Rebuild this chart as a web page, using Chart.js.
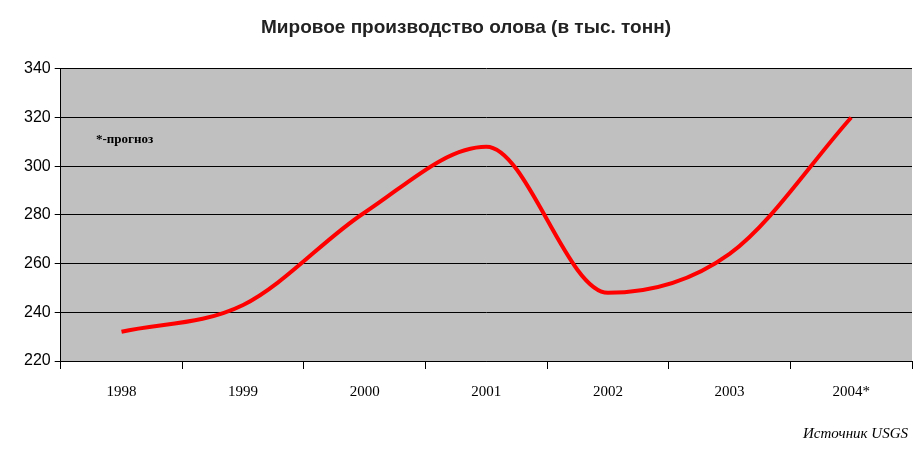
<!DOCTYPE html>
<html><head><meta charset="utf-8">
<script src="https://cdn.jsdelivr.net/npm/chart.js@4"></script>
<style>body{margin:0;background:#fff}#wrap{width:920px;height:460px;position:relative}</style>
</head><body><div id="wrap"><canvas id="c"></canvas></div>
<script>
const years = ['1998', '1999', '2000', '2001', '2002', '2003', '2004*'];
const production = [232, 243, 281, 308, 248, 264, 320];
const yTicks = [220, 240, 260, 280, 300, 320, 340];

// gray plot background and the text notes
const decor = {
    id: 'decor',
    beforeDraw(chart) {
        const {ctx, chartArea: a} = chart;
        ctx.save();
        ctx.fillStyle = '#c0c0c0';
        ctx.fillRect(a.left, a.top, a.right - a.left, a.bottom - a.top);
        ctx.restore();
    },
    afterDraw(chart) {
        const {ctx} = chart;
        ctx.save();
        ctx.fillStyle = '#000';
        ctx.font = 'bold 13px "Liberation Serif"';
        ctx.fillText('*-прогноз', 96, 143);
        ctx.font = 'italic 15px "Liberation Serif"';
        ctx.textAlign = 'right';
        ctx.fillText('Источник USGS', 908, 438);
        ctx.restore();
    }
};

new Chart(document.getElementById('c'), {
    type: 'line',
    data: {
        labels: years,
        datasets: [{
            data: production,
            borderColor: '#ff0000',
            borderWidth: 4,
            pointRadius: 0,
            cubicInterpolationMode: 'monotone',
            fill: false
        }]
    },
    options: {
        responsive: true,
        maintainAspectRatio: false,
        animation: false,
        layout: { padding: { top: 10, right: 8, left: 20, bottom: 45 } },
        plugins: {
            legend: { display: false },
            tooltip: { enabled: false },
            title: {
                display: true,
                text: 'Мировое производство олова (в тыс. тонн)',
                color: '#222',
                font: { family: 'Liberation Sans', size: 19, weight: 'bold' },
                padding: { top: 6, bottom: 30 }
            }
        },
        scales: {
            x: {
                offset: true,
                grid: { display: true, drawOnChartArea: false, color: '#000', tickLength: 8, offset: true },
                border: { color: '#000' },
                ticks: { color: '#000', padding: 14, font: { family: 'Liberation Serif', size: 15 } }
            },
            y: {
                min: 220, max: 340,
                afterBuildTicks(axis) { axis.ticks = yTicks.map(v => ({ value: v })); },
                grid: { color: '#000', tickLength: 6 },
                border: { color: '#000' },
                ticks: { color: '#000', padding: 4, font: { family: 'Liberation Sans', size: 16 } }
            }
        }
    },
    plugins: [decor]
});
</script></body></html>
